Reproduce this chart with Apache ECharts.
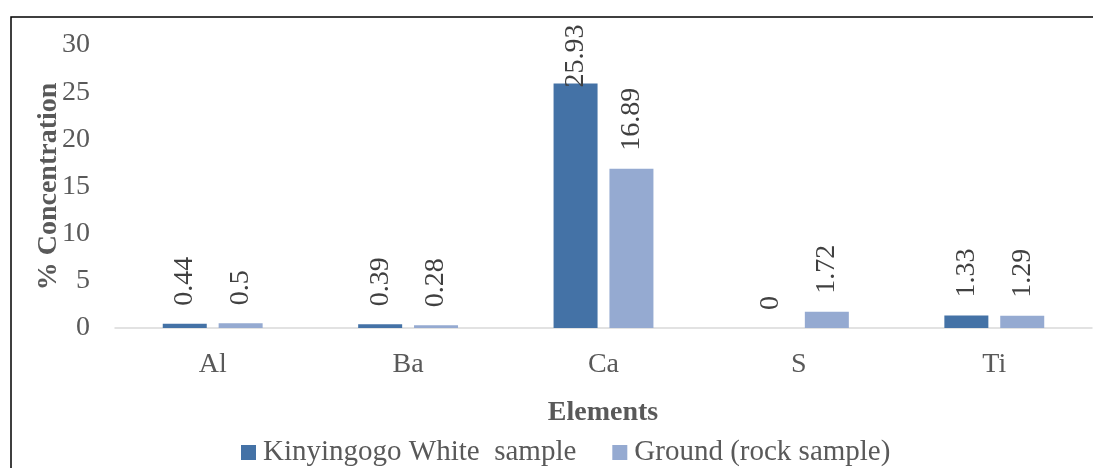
<!DOCTYPE html>
<html><head><meta charset="utf-8">
<script src="https://cdn.jsdelivr.net/npm/echarts@6/dist/echarts.min.js"></script>
<style>html,body{margin:0;padding:0;background:#fff}#c{width:1093px;height:468px}</style>
</head><body><div id="c"></div>
<script>
const categories = ['Al', 'Ba', 'Ca', 'S', 'Ti'];
const seriesNames = ['Kinyingogo White  sample', 'Ground (rock sample)'];
const whiteSample = [0.44, 0.39, 25.93, 0, 1.33];
const groundSample = [0.5, 0.28, 16.89, 1.72, 1.29];
const yTicks = [0, 5, 10, 15, 20, 25, 30];

const FONT = 'Liberation Serif';
const chart = echarts.init(document.getElementById('c'));
const lbl = {
  show: true, position: 'top', rotate: 90, align: 'left', verticalAlign: 'middle',
  distance: 18, fontFamily: FONT, fontSize: 28, color: '#404040'
};
chart.setOption({
  animation: false,
  textStyle: { fontFamily: FONT },
  grid: { left: 115, right: 1, top: 45, bottom: 140, containLabel: false },
  xAxis: {
    type: 'category', data: categories,
    axisLine: { lineStyle: { color: '#d9d9d9', width: 1.5 } },
    axisTick: { show: false },
    axisLabel: { fontFamily: FONT, fontSize: 28, color: '#595959', margin: 23 }
  },
  yAxis: {
    type: 'value', min: yTicks[0], max: yTicks[yTicks.length - 1], interval: 5,
    axisLine: { show: false }, axisTick: { show: false }, splitLine: { show: false },
    axisLabel: { fontFamily: FONT, fontSize: 28, color: '#595959', margin: 25 },
    name: '% Concentration', nameLocation: 'middle', nameGap: 52, nameRotate: 90,
    nameMoveOverlap: false,
    nameTextStyle: { fontFamily: FONT, fontSize: 28, fontWeight: 'bold', color: '#595959' }
  },
  legend: {
    bottom: -4, left: 236, itemWidth: 15, itemHeight: 15, itemGap: 36,
    icon: 'rect',
    textStyle: { fontFamily: FONT, fontSize: 29, color: '#595959', padding: [0, 0, 0, 2] },
    data: seriesNames
  },
  graphic: [
    { type: 'text', x: 603, y: 413, style: { text: 'Elements', font: 'bold 28px "Liberation Serif"', fill: '#595959', textAlign: 'center', textVerticalAlign: 'middle' } },
    { type: 'rect', shape: { x: 11, y: 17, width: 1200, height: 600 }, style: { fill: 'none', stroke: '#000', lineWidth: 1.5 }, z: 100 }
  ],
  series: [
    {
      name: seriesNames[0], type: 'bar', data: whiteSample.map((v, i) => i === 2 ? { value: v, label: { distance: -4 } } : v),
      barWidth: 44, barGap: '27%',
      itemStyle: { color: '#4472A6' }, label: lbl
    },
    {
      name: seriesNames[1], type: 'bar', data: groundSample,
      barWidth: 44,
      itemStyle: { color: '#95AAD1' }, label: lbl
    }
  ]
});
</script></body></html>
